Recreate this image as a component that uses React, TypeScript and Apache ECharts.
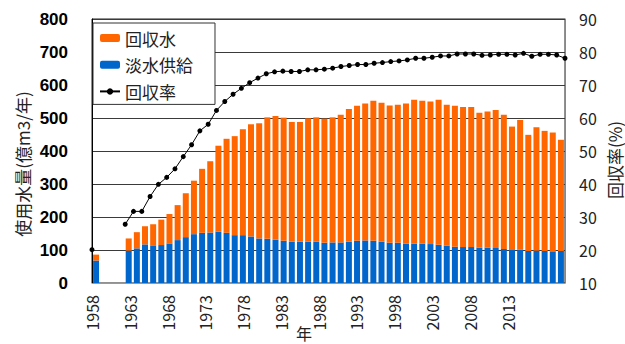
import React, { useEffect, useRef } from "react";
import * as echarts from "echarts";

// 年次
const years: string[] = [
  "1958", "1959", "1960", "1961", "1962", "1963", "1964", "1965", "1966", "1967",
  "1968", "1969", "1970", "1971", "1972", "1973", "1974", "1975", "1976", "1977",
  "1978", "1979", "1980", "1981", "1982", "1983", "1984", "1985", "1986", "1987",
  "1988", "1989", "1990", "1991", "1992", "1993", "1994", "1995", "1996", "1997",
  "1998", "1999", "2000", "2001", "2002", "2003", "2004", "2005", "2006", "2007",
  "2008", "2009", "2010", "2011", "2012", "2013", "2014", "2015",
];

// 淡水供給 (億m3/年)
const freshWater: (number | null)[] = [
  68, null, null, null, 98, 105, 117, 114, 115, 120,
  130, 139, 148, 152, 153, 156, 152, 145, 145, 141,
  135, 134, 131, 128, 125, 125, 125, 125, 122, 123,
  123, 125, 128, 129, 128, 125, 122, 122, 119, 119,
  119, 118, 116, 113, 110, 109, 109, 107, 107, 106,
  103, 100, 101, 97, 98, 97, 96, 97,
];

// 回収水 (億m3/年)
const recycledWater: (number | null)[] = [
  18, null, null, null, 37, 49, 55, 64, 77, 89,
  106, 133, 162, 194, 216, 260, 285, 300, 321, 340,
  349, 368, 375, 373, 363, 363, 374, 377, 376, 379,
  387, 402, 409, 415, 424, 421, 416, 418, 425, 436,
  433, 432, 439, 427, 427, 424, 424, 409, 413, 418,
  407, 374, 393, 352, 374, 364, 360, 337,
];

// 回収率 (%)
const recoveryRate: (number | null)[] = [
  20.1, null, null, null, 27.8, 31.7, 31.7, 36.2, 39.9, 42.0,
  44.6, 48.3, 51.9, 56.1, 58.1, 62.3, 65.0, 67.2, 69.0, 70.7,
  72.1, 73.4, 74.0, 74.2, 74.1, 74.1, 74.6, 74.6, 74.8, 75.1,
  75.6, 75.9, 76.2, 76.2, 76.6, 76.8, 77.1, 77.3, 77.6, 78.1,
  78.1, 78.4, 78.8, 78.8, 79.4, 79.4, 79.4, 79.0, 79.1, 79.3,
  79.3, 79.1, 79.6, 78.7, 79.3, 79.3, 79.1, 78.1,
];

// 年ラベルの目盛 (5年おき)
const yearTickFirst = 1958;
const yearTickLast = 2013;
const yearTickStep = 5;

const JP = "'Noto Sans CJK JP', 'Noto Sans', sans-serif";

export default function App() {
  const ref = useRef<HTMLDivElement>(null);

  useEffect(() => {
    if (!ref.current) return;
    const chart = echarts.init(ref.current, undefined, { renderer: "svg" });

    chart.setOption({
      animation: false,
      backgroundColor: "#ffffff",
      grid: {
        left: 92,
        right: 60,
        top: 19,
        bottom: 61,
        show: true,
        borderColor: "#222",
        borderWidth: 1,
      },
      legend: {
        orient: "vertical",
        left: 93,
        top: 23,
        data: ["回収水", "淡水供給", "回収率"],
        padding: [5, 22, 3, 6],
        itemGap: 6.7,
        itemWidth: 20,
        itemHeight: 8,
        borderColor: "#333",
        borderWidth: 1,
        borderRadius: 0,
        backgroundColor: "#ffffff",
        textStyle: { fontFamily: JP, fontSize: 17, lineHeight: 20, color: "#222" },
      },
      xAxis: [
        {
          // bars
          type: "category",
          data: years,
          boundaryGap: true,
          axisLine: { show: true, lineStyle: { color: "#999", width: 1 } },
          axisTick: { show: false },
          axisLabel: { show: false },
          splitLine: { show: false },
        },
        {
          // recovery-rate line, points run edge to edge
          type: "category",
          data: years,
          boundaryGap: false,
          show: false,
        },
        {
          // year labels
          type: "value",
          position: "bottom",
          min: yearTickFirst,
          max: 2020.6,
          interval: yearTickStep,
          axisLine: { show: false },
          axisTick: { show: false },
          splitLine: { show: false },
          axisLabel: {
            rotate: 90,
            margin: 12,
            fontFamily: JP,
            fontSize: 16,
            color: "#222",
            showMaxLabel: false,
            formatter: (v: number) =>
              v <= yearTickLast && (v - yearTickFirst) % yearTickStep === 0 ? String(v) : "",
          },
        },
      ],
      yAxis: [
        {
          type: "value",
          min: 0,
          max: 800,
          interval: 100,
          axisLine: { show: true, lineStyle: { color: "#000", width: 1 } },
          axisTick: { show: false },
          axisLabel: {
            margin: 24,
            fontFamily: "'Liberation Sans', Arial, sans-serif",
            fontWeight: "bold",
            fontSize: 17,
            color: "#000",
          },
          splitLine: { show: true, lineStyle: { color: "#3a3a3a", width: 1 } },
        },
        {
          type: "value",
          min: 10,
          max: 90,
          interval: 10,
          position: "right",
          axisLine: { show: true, lineStyle: { color: "#888", width: 1 } },
          axisTick: { show: false },
          axisLabel: {
            margin: 14,
            fontFamily: JP,
            fontSize: 16,
            color: "#222",
          },
          splitLine: { show: false },
        },
      ],
      series: [
        {
          name: "淡水供給",
          type: "bar",
          stack: "water",
          xAxisIndex: 0,
          yAxisIndex: 0,
          barWidth: 6,
          itemStyle: { color: "#0066CC" },
          data: freshWater,
        },
        {
          name: "回収水",
          type: "bar",
          stack: "water",
          xAxisIndex: 0,
          yAxisIndex: 0,
          barWidth: 6,
          itemStyle: { color: "#FF6600" },
          data: recycledWater,
        },
        {
          name: "回収率",
          type: "line",
          xAxisIndex: 1,
          yAxisIndex: 1,
          connectNulls: false,
          symbol: "circle",
          symbolSize: 5,
          lineStyle: { color: "#000", width: 1 },
          itemStyle: { color: "#000" },
          data: recoveryRate,
          z: 3,
        },
      ],
      graphic: [
        {
          type: "text",
          x: 22,
          y: 164,
          rotation: Math.PI / 2,
          style: {
            text: "使用水量(億m3/年)",
            fontFamily: JP,
            fontSize: 17,
            fill: "#222",
            align: "center",
            verticalAlign: "middle",
          },
        },
        {
          type: "text",
          x: 614,
          y: 160,
          rotation: Math.PI / 2,
          style: {
            text: "回収率(%)",
            fontFamily: JP,
            fontSize: 17,
            fill: "#222",
            align: "center",
            verticalAlign: "middle",
          },
        },
        {
          type: "text",
          x: 304,
          y: 341,
          style: {
            text: "年",
            fontFamily: JP,
            fontSize: 16,
            fill: "#222",
            align: "center",
            verticalAlign: "bottom",
          },
        },
      ],
    });

    return () => chart.dispose();
  }, []);

  return <div ref={ref} style={{ width: 625, height: 344, position: "absolute", left: 0, top: 0 }} />;
}
